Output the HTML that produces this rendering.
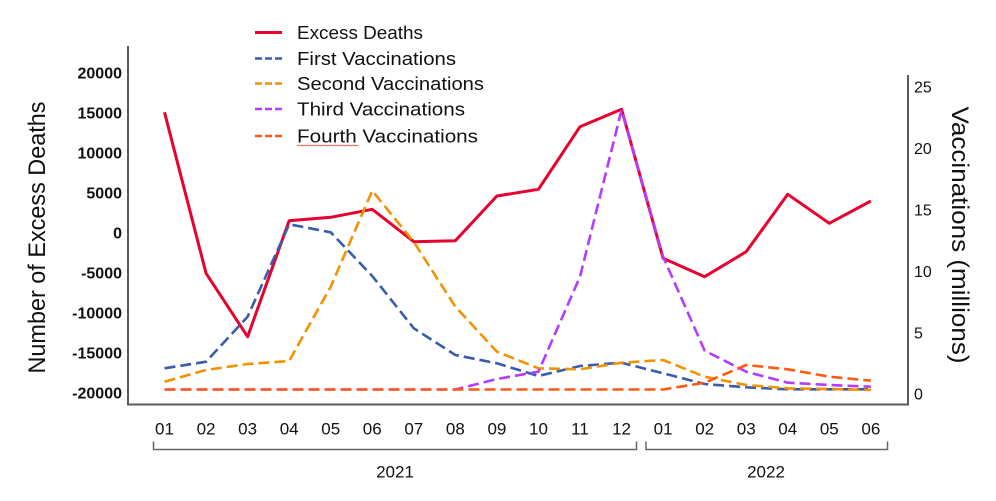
<!DOCTYPE html>
<html>
<head>
<meta charset="utf-8">
<style>
  html,body{margin:0;padding:0;background:#fff;}
  svg{display:block;}
  text{font-family:"Liberation Sans", Arial, sans-serif;fill:#111;}
</style>
</head>
<body>
<svg width="996" height="501" viewBox="0 0 996 501" xmlns="http://www.w3.org/2000/svg">
  <rect width="996" height="501" fill="#fff"/>

  <!-- Axes -->
  <line x1="128" y1="46" x2="128" y2="404.5" stroke="#5a5a5a" stroke-width="2"/>
  <line x1="127" y1="404.5" x2="909" y2="404.5" stroke="#5a5a5a" stroke-width="2"/>
  <line x1="908" y1="75" x2="908" y2="405.5" stroke="#5a5a5a" stroke-width="2"/>

  <!-- Left tick labels -->
  <g font-size="16" font-weight="bold" text-anchor="end">
    <text x="122" y="78.5">20000</text>
    <text x="122" y="118.5">15000</text>
    <text x="122" y="158.5">10000</text>
    <text x="122" y="198.5">5000</text>
    <text x="122" y="238.5">0</text>
    <text x="122" y="278.5">-5000</text>
    <text x="122" y="318.5">-10000</text>
    <text x="122" y="358.5">-15000</text>
    <text x="122" y="398.5">-20000</text>
  </g>

  <!-- Right tick labels -->
  <g font-size="16" text-anchor="start">
    <text x="914" y="92.5">25</text>
    <text x="914" y="154">20</text>
    <text x="914" y="215.5">15</text>
    <text x="914" y="277">10</text>
    <text x="914" y="338.5">5</text>
    <text x="914" y="399.5">0</text>
  </g>

  <!-- Axis titles -->
  <text x="0" y="0" font-size="24" text-anchor="middle" textLength="272" lengthAdjust="spacingAndGlyphs" transform="translate(45,237.5) rotate(-90)">Number of Excess Deaths</text>
  <text x="0" y="0" font-size="24" text-anchor="middle" textLength="257" lengthAdjust="spacingAndGlyphs" transform="translate(952,235) rotate(90)">Vaccinations (millions)</text>

  <!-- X tick labels -->
  <g font-size="17" text-anchor="middle">
    <text x="164.5" y="434.5">01</text>
    <text x="206.05" y="434.5">02</text>
    <text x="247.6" y="434.5">03</text>
    <text x="289.15" y="434.5">04</text>
    <text x="330.7" y="434.5">05</text>
    <text x="372.25" y="434.5">06</text>
    <text x="413.8" y="434.5">07</text>
    <text x="455.35" y="434.5">08</text>
    <text x="496.9" y="434.5">09</text>
    <text x="538.45" y="434.5">10</text>
    <text x="580" y="434.5">11</text>
    <text x="621.55" y="434.5">12</text>
    <text x="663.1" y="434.5">01</text>
    <text x="704.65" y="434.5">02</text>
    <text x="746.2" y="434.5">03</text>
    <text x="787.75" y="434.5">04</text>
    <text x="829.3" y="434.5">05</text>
    <text x="870.85" y="434.5">06</text>
  </g>

  <!-- Year brackets -->
  <polyline points="153.5,441.5 153.5,449.5 636.5,449.5 636.5,441.5" fill="none" stroke="#666" stroke-width="1.5"/>
  <polyline points="646,441.5 646,449.5 887.5,449.5 887.5,441.5" fill="none" stroke="#666" stroke-width="1.5"/>
  <g font-size="17" text-anchor="middle">
    <text x="395" y="477.5">2021</text>
    <text x="766" y="477.5">2022</text>
  </g>

  <!-- Series -->
  <g fill="none" stroke-linejoin="round">
    <!-- Excess Deaths -->
    <polyline stroke="#e8002e" stroke-width="3"
      points="164.5,112.3 206.05,273.3 247.6,336.7 289.15,220.7 330.7,217.3 372.25,209.3 413.8,241.7 455.35,240.7 496.9,196 538.45,189.3 580,126.7 621.55,109.3 663.1,258.3 704.65,276.7 746.2,251.7 787.75,194.3 829.3,223.3 870.85,201"/>
    <!-- First -->
    <polyline stroke="#3a5cad" stroke-width="2.6" stroke-dasharray="11,5"
      points="164.5,368.3 206.05,361.7 247.6,316.7 289.15,224.3 330.7,232.3 372.25,276 413.8,328.3 455.35,355 496.9,363.3 538.45,376 580,366 621.55,362.7 663.1,373.3 704.65,384 746.2,387.3 787.75,389.3 829.3,389.3 870.85,389.3"/>
    <!-- Second -->
    <polyline stroke="#f39200" stroke-width="2.6" stroke-dasharray="11,5"
      points="164.5,381.7 206.05,370 247.6,364 289.15,361 330.7,286.7 372.25,190.7 413.8,242 455.35,306.7 496.9,351.7 538.45,368.3 580,369.3 621.55,362.7 663.1,360 704.65,376.7 746.2,385 787.75,388.3 829.3,389 870.85,390"/>
    <!-- Third -->
    <polyline stroke="#b33cff" stroke-width="2.6" stroke-dasharray="11,5"
      points="164.5,389.5 206.05,389.5 247.6,389.5 289.15,389.5 330.7,389.5 372.25,389.5 413.8,389.5 455.35,389.5 496.9,379 538.45,371.7 580,276.7 621.55,110 663.1,256.7 704.65,350.7 746.2,371.7 787.75,382.7 829.3,385 870.85,386.7"/>
    <!-- Fourth -->
    <polyline stroke="#ff5a14" stroke-width="2.6" stroke-dasharray="11,5"
      points="164.5,389.5 206.05,389.5 247.6,389.5 289.15,389.5 330.7,389.5 372.25,389.5 413.8,389.5 455.35,389.5 496.9,389.5 538.45,389.5 580,389.5 621.55,389.5 663.1,389.5 704.65,382.7 746.2,365 787.75,369.3 829.3,376.7 870.85,380.7"/>
  </g>

  <!-- Legend -->
  <g fill="none">
    <line x1="255" y1="32.5" x2="282" y2="32.5" stroke="#e8002e" stroke-width="3"/>
    <line x1="255" y1="58.5" x2="282" y2="58.5" stroke="#3a5cad" stroke-width="2.5" stroke-dasharray="7,3"/>
    <line x1="255" y1="83.5" x2="282" y2="83.5" stroke="#f39200" stroke-width="2.5" stroke-dasharray="7,3"/>
    <line x1="255" y1="109" x2="282" y2="109" stroke="#b33cff" stroke-width="2.5" stroke-dasharray="7,3"/>
    <line x1="255" y1="136" x2="282" y2="136" stroke="#ff5a14" stroke-width="2.5" stroke-dasharray="7,3"/>
  </g>
  <g font-size="18">
    <text x="297" y="39" textLength="126" lengthAdjust="spacingAndGlyphs">Excess Deaths</text>
    <text x="297" y="65" textLength="159" lengthAdjust="spacingAndGlyphs">First Vaccinations</text>
    <text x="297" y="90" textLength="187" lengthAdjust="spacingAndGlyphs">Second Vaccinations</text>
    <text x="297" y="115.5" textLength="168" lengthAdjust="spacingAndGlyphs">Third Vaccinations</text>
    <text x="297" y="142.5" textLength="181" lengthAdjust="spacingAndGlyphs">Fourth Vaccinations</text>
  </g>
  <!-- spell-check squiggle -->
  <polyline fill="none" stroke="#e05050" stroke-width="0.8"
    points="297,146 298.5,145 300,146 301.5,145 303,146 304.5,145 306,146 307.5,145 309,146 310.5,145 312,146 313.5,145 315,146 316.5,145 318,146 319.5,145 321,146 322.5,145 324,146 325.5,145 327,146 328.5,145 330,146 331.5,145 333,146 334.5,145 336,146 337.5,145 339,146 340.5,145 342,146 343.5,145 345,146 346.5,145 348,146 349.5,145 351,146 352.5,145 354,146 355.5,145 357,146 358.5,145"/>
</svg>
</body>
</html>
